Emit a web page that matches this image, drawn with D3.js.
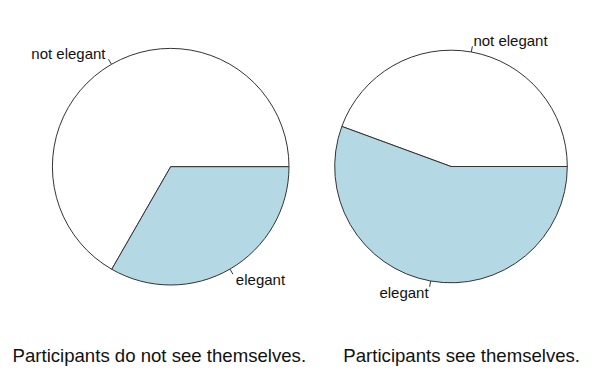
<!DOCTYPE html>
<html>
<head>
<meta charset="utf-8">
<script src="https://cdn.jsdelivr.net/npm/d3@7"></script>
<style>
  body { margin: 0; background: #fff; }
  svg { display: block; }
  text { font-family: "Liberation Sans", Arial, Helvetica, sans-serif; fill: #111; }
</style>
</head>
<body>
<div id="chart"></div>
<script>
/***** data *****/
var categories = ["not elegant", "elegant"];
var notSeeValues = [66.7, 33.3];   // participants do not see themselves
var seeValues = [44.4, 55.6];      // participants see themselves
var captions = ["Participants do not see themselves.", "Participants see themselves."];

var fillMap = {"not elegant": "#ffffff", "elegant": "#b4d8e4"};

//chart parameters
var width = 598;
var height = 373;

var svg = d3.select("#chart")
  .append("svg")
  .attr("width", width)
  .attr("height", height);

//pie starts at 3 o'clock and runs counter-clockwise (like base R)
var pie = d3.pie()
  .sort(null)
  .startAngle(Math.PI / 2)
  .endAngle(Math.PI / 2 - 2 * Math.PI);

var panels = [
  {values: notSeeValues, cx: 170.7, cy: 166.7, r: 118.3, caption: captions[0], capX: 159.3},
  {values: seeValues, cx: 451.0, cy: 166.5, r: 116.3, caption: captions[1], capX: 461.7}
];

panels.forEach(function(p) {
  var arc = d3.arc().innerRadius(0).outerRadius(p.r);
  var data = pie(categories.map(function(c, i) { return {name: c, value: p.values[i]}; })
    .map(function(d) { return d.value; }));

  var g = svg.append("g")
    .attr("transform", "translate(" + p.cx + "," + p.cy + ")");

  g.selectAll("path.slice")
    .data(data)
    .enter()
    .append("path")
    .attr("class", "slice")
    .attr("d", arc)
    .attr("fill", function(d, i) { return fillMap[categories[i]]; })
    .attr("stroke", "#333")
    .attr("stroke-width", 1)
    .attr("stroke-linejoin", "round");

  //label ticks and text
  data.forEach(function(d, i) {
    var mid = (d.startAngle + d.endAngle) / 2;
    var sx = Math.sin(mid), sy = -Math.cos(mid);
    g.append("line")
      .attr("x1", sx * p.r).attr("y1", sy * p.r)
      .attr("x2", sx * p.r * 1.05).attr("y2", sy * p.r * 1.05)
      .attr("stroke", "#333")
      .attr("stroke-width", 1);
    g.append("text")
      .attr("x", sx * p.r * 1.1)
      .attr("y", sy * p.r * 1.1)
      .attr("dy", "0.35em")
      .attr("text-anchor", sx > 0 ? "start" : "end")
      .style("font-size", "15px")
      .text(categories[i]);
  });

  svg.append("text")
    .attr("x", p.capX)
    .attr("y", 361.5)
    .attr("text-anchor", "middle")
    .style("font-size", "18.6px")
    .text(p.caption);
});
</script>
</body>
</html>
